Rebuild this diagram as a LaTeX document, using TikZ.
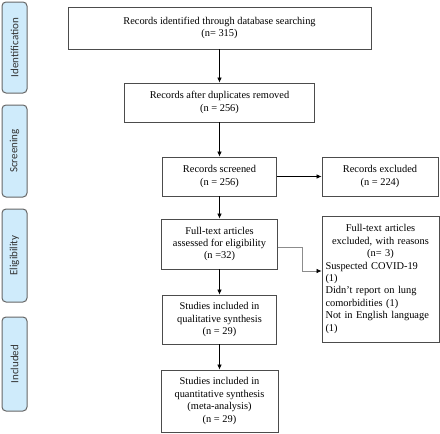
\documentclass[tikz,border=0pt]{standalone}
\usepackage{fontspec}
\setmainfont{Liberation Serif}
\newfontfamily\stagefont{Carlito}
\usetikzlibrary{arrows.meta}
\definecolor{stageblue}{RGB}{207,235,251}

\begin{document}
\begin{tikzpicture}[x=1pt,y=-1pt,
        flowbox/.style={draw=black!70,line width=0.8pt,align=center,inner sep=2pt,
            font=\fontsize{10.4}{12.4}\selectfont},
        stagebox/.style={draw=black!60,fill=stageblue,rounded corners=4pt,line width=1pt,
            rotate=90,minimum height=25pt,inner sep=0pt,
            font=\stagefont\fontsize{11}{12}\selectfont,text=black!80},
        arr/.style={line width=0.7pt,-{Latex[length=5pt,width=4.5pt]}},
        grayarr/.style={black!45,line width=0.7pt,-{Latex[length=5pt,width=4.5pt,color=black]}}]
        \useasboundingbox (0,0) rectangle (440,434);
        % Draw the stage labels
        \node[stagebox,minimum width=91pt] (ident) at (14.5,47.5) {Identification};
        \node[stagebox,minimum width=92pt] (screen) at (14.5,151) {Screening};
        \node[stagebox,minimum width=93pt] (elig) at (14.5,255.5) {Eligibility};
        \node[stagebox,minimum width=94pt] (incl) at (14.5,364) {Included};
        % Draw the flow boxes
        \node[flowbox,minimum width=303pt,minimum height=42pt] (found) at (219.5,28)
            {Records identified through database searching\\(n= 315)};
        \node[flowbox,minimum width=190pt,minimum height=39pt] (dedup) at (219.5,102.5)
            {Records after duplicates removed\\(n = 256)};
        \node[flowbox,minimum width=114pt,minimum height=39pt] (screened) at (219.5,176.5)
            {Records screened\\(n = 256)};
        \node[flowbox,minimum width=116pt,minimum height=39pt] (dropped) at (380,176.5)
            {Records excluded\\(n = 224)};
        \node[flowbox,minimum width=116pt,minimum height=50pt] (fulltext) at (219.5,244)
            {Full-text articles\\assessed for eligibility\\(n =32)};
        \node[flowbox,minimum width=117pt,minimum height=126pt,text width=110pt,align=left,
            inner xsep=3pt] (reasons) at (380.5,279)
            {{\centering Full-text articles\\excluded, with reasons\\(n= 3)\par}
             Suspected COVID-19\\(1)\\Didn’t report on lung\\comorbidities (1)\\
             Not in English language\\(1)};
        \node[flowbox,minimum width=114pt,minimum height=49pt] (qual) at (219.5,319.5)
            {Studies included in\\qualitative synthesis\\(n = 29)};
        \node[flowbox,minimum width=117pt,minimum height=62pt] (quant) at (219.5,401)
            {Studies included in\\quantitative synthesis\\(meta-analysis)\\(n = 29)};
        % Draw the connectors
        \coordinate (reasonsin) at ([yshift=8pt]reasons.west);
        \draw[arr] (found) -- (dedup);
        \draw[arr] (dedup) -- (screened);
        \draw[arr] (screened) -- (fulltext);
        \draw[arr] (fulltext) -- (qual);
        \draw[arr] (qual) -- (quant);
        \draw[arr] (screened) -- (dropped);
        \draw[grayarr] ([yshift=-3pt]fulltext.east) -- ++(24,0) |- (reasonsin);
\end{tikzpicture}
\end{document}
